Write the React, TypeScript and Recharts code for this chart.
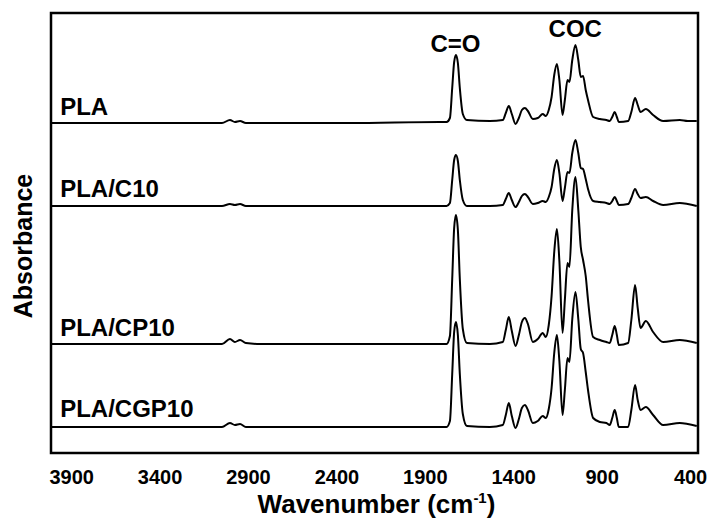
import { LineChart, Line, XAxis, YAxis, ReferenceDot, ReferenceArea } from "recharts";

// wavenumber (cm-1), shared by the four spectra
const wavenumbers = [
  4017, 3740, 3457, 3174, 3050, 3005, 2977, 2948, 2915, 2835,
  2326, 1818, 1780, 1761, 1748, 1737, 1727, 1716, 1705, 1688,
  1665, 1535, 1462, 1445, 1428, 1411, 1390, 1371, 1354, 1337,
  1320, 1292, 1264, 1236, 1219, 1202, 1186, 1171, 1156, 1142,
  1124, 1111, 1096, 1085, 1069, 1051, 1035, 1021, 1008, 993,
  980, 951, 913, 876, 857, 843, 829, 817, 806, 753,
  735, 714, 699, 683, 653, 612, 555, 461, 416, 365,
];

// absorbance, already stacked with offsets as in the figure
const pla = [
  3.3, 3.3, 3.3, 3.3, 3.3, 3.33, 3.31, 3.32, 3.3, 3.3,
  3.3, 3.31, 3.31, 3.35, 3.65, 3.91, 3.98, 3.9, 3.65, 3.39,
  3.33, 3.32, 3.33, 3.4, 3.47, 3.39, 3.29, 3.35, 3.43, 3.45,
  3.42, 3.34, 3.35, 3.39, 3.37, 3.43, 3.56, 3.78, 3.89, 3.73,
  3.38, 3.53, 3.73, 3.71, 3.93, 4.08, 3.93, 3.76, 3.77, 3.63,
  3.53, 3.36, 3.34, 3.33, 3.32, 3.36, 3.41, 3.36, 3.31, 3.32,
  3.41, 3.55, 3.48, 3.41, 3.44, 3.38, 3.32, 3.33, 3.32, 3.32,
];
const plaC10 = [
  2.47, 2.47, 2.47, 2.47, 2.47, 2.49, 2.48, 2.49, 2.47, 2.47,
  2.47, 2.47, 2.47, 2.5, 2.73, 2.93, 2.98, 2.92, 2.73, 2.53,
  2.47, 2.47, 2.48, 2.54, 2.6, 2.53, 2.46, 2.51, 2.57, 2.59,
  2.56, 2.49, 2.5, 2.52, 2.51, 2.56, 2.66, 2.84, 2.93, 2.8,
  2.52, 2.65, 2.81, 2.8, 3.0, 3.13, 3.0, 2.85, 2.84, 2.74,
  2.64, 2.52, 2.51, 2.5, 2.49, 2.52, 2.56, 2.52, 2.48, 2.49,
  2.55, 2.64, 2.59, 2.55, 2.56, 2.52, 2.48, 2.5, 2.49, 2.47,
];
const plaCP10 = [
  1.09, 1.09, 1.09, 1.09, 1.09, 1.14, 1.11, 1.13, 1.1, 1.09,
  1.09, 1.09, 1.09, 1.17, 1.74, 2.25, 2.38, 2.23, 1.74, 1.24,
  1.1, 1.09, 1.11, 1.23, 1.36, 1.22, 1.07, 1.18, 1.31, 1.35,
  1.29, 1.11, 1.14, 1.2, 1.16, 1.28, 1.57, 2.01, 2.24, 1.92,
  1.2, 1.53, 1.9, 1.86, 2.43, 2.76, 2.43, 2.06, 1.93, 1.77,
  1.53, 1.16, 1.13, 1.11, 1.1, 1.18, 1.27, 1.18, 1.08, 1.1,
  1.33, 1.68, 1.45, 1.25, 1.32, 1.21, 1.11, 1.13, 1.12, 1.1,
];
const plaCGP10 = [
  0.26, 0.26, 0.26, 0.26, 0.26, 0.3, 0.28, 0.29, 0.26, 0.26,
  0.26, 0.26, 0.26, 0.32, 0.79, 1.21, 1.31, 1.18, 0.79, 0.39,
  0.27, 0.26, 0.28, 0.38, 0.5, 0.37, 0.25, 0.34, 0.45, 0.48,
  0.43, 0.3, 0.32, 0.37, 0.35, 0.44, 0.65, 1.0, 1.18, 0.92,
  0.38, 0.63, 0.95, 0.91, 1.34, 1.61, 1.34, 1.04, 1.0, 0.81,
  0.63, 0.35, 0.31, 0.3, 0.28, 0.35, 0.43, 0.35, 0.26, 0.26,
  0.43, 0.68, 0.53, 0.43, 0.46, 0.38, 0.28, 0.3, 0.29, 0.27,
];

const xTicks = [3900, 3400, 2900, 2400, 1900, 1400, 900, 400];
const xDomain = [358, 4017];
const yDomain = [0, 4.4];

const sampleLabels = [
  { text: "PLA", wn: 3965, y: 3.38 },
  { text: "PLA/C10", wn: 3965, y: 2.56 },
  { text: "PLA/CP10", wn: 3965, y: 1.17 },
  { text: "PLA/CGP10", wn: 3965, y: 0.36 },
];
const bandLabels = [
  { text: "C=O", wn: 1730, y: 4.01 },
  { text: "COC", wn: 1052, y: 4.16 },
];

const rows = wavenumbers.map((wn, i) => ({
  wn,
  pla: pla[i],
  c10: plaC10[i],
  cp10: plaCP10[i],
  cgp10: plaCGP10[i],
}));

const font = "'Liberation Sans', Arial, sans-serif";
const seriesKeys = ["pla", "c10", "cp10", "cgp10"];

function textLabel(text: string, anchor: "start" | "middle", size: number) {
  return (props: any) => {
    const vb = props.viewBox || {};
    const x = (vb.x ?? 0) + (vb.width ?? 0) / 2;
    const y = (vb.y ?? 0) + (vb.height ?? 0) / 2;
    return (
      <text x={x} y={y} textAnchor={anchor} fontFamily={font} fontWeight={700} fontSize={size} fill="#000">
        {text}
      </text>
    );
  };
}

function XTitle(props: any) {
  const vb = props.viewBox || {};
  const x = vb.x + vb.width / 2;
  return (
    <text x={x + 2} y={vb.y + 60} textAnchor="middle" fontFamily={font} fontWeight={700} fontSize={26} fill="#000">
      Wavenumber (cm
      <tspan dy={-10} fontSize={15}>-1</tspan>
      <tspan dy={10}>)</tspan>
    </text>
  );
}

function YTitle(props: any) {
  const vb = props.viewBox || {};
  const cx = 23;
  const cy = vb.y + vb.height / 2 + 13;
  return (
    <text
      x={cx}
      y={cy}
      transform={`rotate(-90 ${cx} ${cy})`}
      textAnchor="middle"
      dominantBaseline="central"
      fontFamily={font}
      fontWeight={700}
      fontSize={25}
      fill="#000"
    >
      Absorbance
    </text>
  );
}

export default function App() {
  return (
    <div style={{ position: "absolute", left: 0, top: 0, width: 709, height: 521, background: "#fff" }}>
      <LineChart width={709} height={521} data={rows} margin={{ top: 13, right: 11, left: 0, bottom: 0 }}>
        <XAxis
          dataKey="wn"
          type="number"
          domain={xDomain}
          reversed
          ticks={xTicks}
          allowDataOverflow
          height={68}
          tickLine={false}
          tickMargin={11}
          axisLine={false}
          tick={{ fill: "#000", fontSize: 20, fontWeight: 700, fontFamily: font }}
          label={{ content: XTitle }}
        />
        <YAxis
          type="number"
          domain={yDomain}
          width={51}
          tick={false}
          tickLine={false}
          axisLine={false}
          label={{ content: YTitle }}
        />
        {seriesKeys.map((k) => (
          <Line
            key={k}
            dataKey={k}
            type="monotone"
            stroke="#000"
            strokeWidth={2}
            dot={false}
            isAnimationActive={false}
          />
        ))}
        {/* plot frame */}
        <ReferenceArea
          x1={xDomain[1]}
          x2={xDomain[0]}
          y1={yDomain[0]}
          y2={yDomain[1]}
          fill="none"
          stroke="#000"
          strokeWidth={2.5}
          fillOpacity={0}
        />
        {sampleLabels.map((l) => (
          <ReferenceDot
            key={l.text}
            x={l.wn}
            y={l.y}
            r={1}
            fill="none"
            stroke="none"
            label={{ content: textLabel(l.text, "start", 24) }}
          />
        ))}
        {bandLabels.map((l) => (
          <ReferenceDot
            key={l.text}
            x={l.wn}
            y={l.y}
            r={1}
            fill="none"
            stroke="none"
            label={{ content: textLabel(l.text, "middle", 24) }}
          />
        ))}
      </LineChart>
    </div>
  );
}
